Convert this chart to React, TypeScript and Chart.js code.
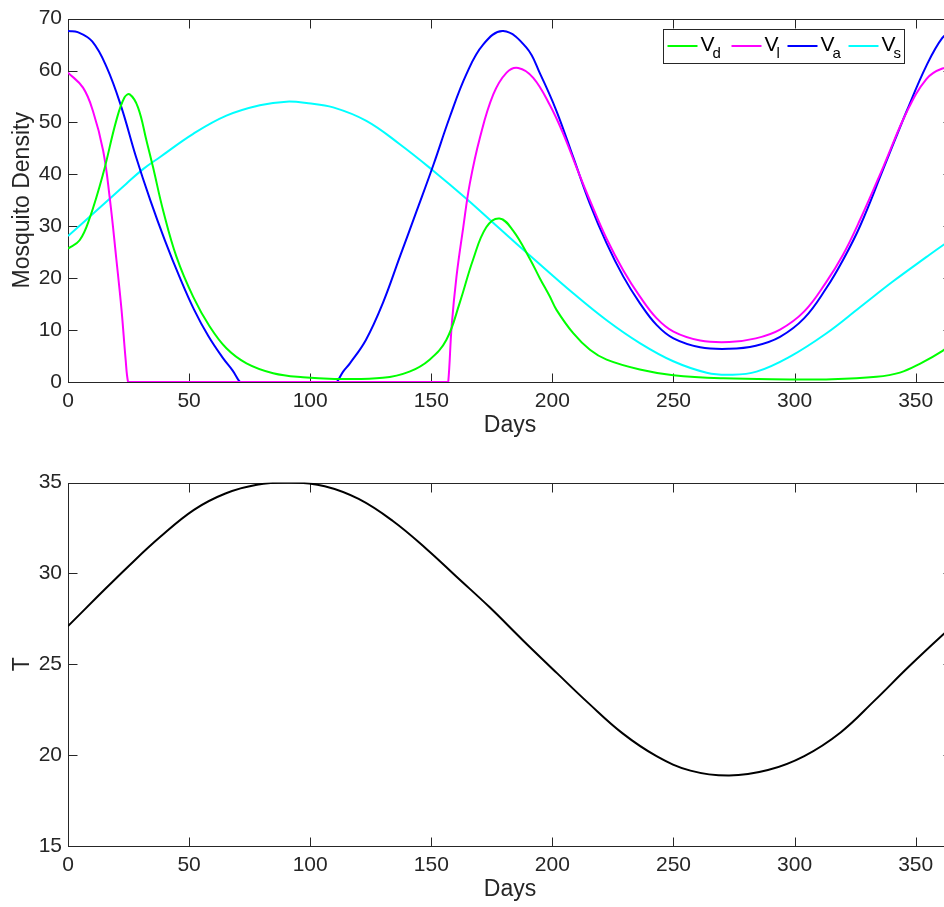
import React, { useEffect, useRef } from "react";
import { Chart, registerables } from "chart.js";

Chart.register(...registerables);

const FONT = '"Liberation Sans", Arial, Helvetica, sans-serif';
const AXIS = "#262626";

// ---------- data ----------
const xTickValues = [0, 50, 100, 150, 200, 250, 300, 350];
const densityTickValues = [0, 10, 20, 30, 40, 50, 60, 70];
const tempTickValues = [15, 20, 25, 30, 35];

const vdDays = [0, 4.8, 8.9, 14.5, 19.9, 23.3, 25.5, 28.9, 32.4, 35.1, 39.3, 44.8, 51.7, 58.5, 65.4, 73.7, 84.7, 97, 110, 130, 141, 149.3, 156.2, 161.7, 167.2, 172.7, 178.2, 183.7, 190.6, 194.8, 198.9, 201.7, 208.6, 215.5, 222.4, 236.1, 249.9, 270.6, 298, 313, 333.8, 343.5, 351.7, 361.1, 365];
const vdValues = [25.7, 27.3, 31.5, 40.1, 50.3, 54.8, 55.4, 52.9, 46.5, 41.4, 33.0, 24.1, 16.4, 10.7, 6.5, 3.6, 1.7, 0.9, 0.6, 0.8, 2.0, 4.3, 8.1, 15.2, 23.5, 29.8, 31.5, 29.2, 23.8, 20.0, 16.5, 13.9, 9.4, 6.2, 4.3, 2.4, 1.3, 0.7, 0.5, 0.5, 1.0, 1.8, 3.5, 6.0, 7.5];

const vlDays = [0, 6.2, 10.3, 14.5, 17.2, 20, 22.1, 23.8, 24.8, 25.6, 156.4, 157, 158.4, 160.4, 163.2, 165.9, 170.1, 175.6, 181.1, 185.9, 192.1, 199, 204.5, 210, 215.5, 222.4, 229.3, 236.1, 243, 250, 261, 273, 284, 294, 304, 313, 320, 327, 336.6, 346.3, 354.5, 361, 365];
const vlValues = [59.6, 56.7, 52.2, 44.6, 35.6, 23.5, 13.9, 4.3, 0, 0, 0, 0, 10.7, 20.3, 29.8, 38.2, 47.1, 55.4, 59.6, 60.5, 58.6, 53.3, 47.8, 41.3, 35.0, 27.6, 21.5, 16.5, 12.3, 9.7, 8.0, 7.7, 8.4, 10.1, 13.6, 19.2, 24.5, 31.2, 41.4, 52.0, 58.4, 60.4, 60.2];

const vaDays = [0, 4, 10, 16, 22, 28, 34, 40, 46, 52, 58, 64, 68, 71, 71.8, 110.2, 111, 113.6, 116.4, 123, 130, 137, 144, 151, 157.6, 164.5, 171.4, 179.7, 189.3, 195, 201.7, 208.6, 215.5, 222.4, 229.3, 236.1, 243, 250, 261, 273, 284, 294, 304, 313, 320, 327, 336.6, 346.3, 354.5, 361, 365];
const vaValues = [67.6, 67.4, 65.6, 60.6, 53.0, 43.5, 35.0, 27.3, 20.3, 14.0, 8.8, 4.6, 2.2, 0, 0, 0, 0, 2.0, 3.6, 8.1, 15.2, 24.1, 33.0, 42.0, 51.0, 59.3, 65.0, 67.6, 64.4, 59.3, 52.2, 43.3, 34.3, 26.7, 20.3, 15.2, 11.0, 8.4, 6.7, 6.4, 7.0, 8.7, 12.3, 18.0, 23.5, 30.0, 41.0, 52.2, 61.0, 66.3, 67.6];

const vsDays = [0, 10.3, 17.2, 24.1, 31, 37.9, 51.7, 65.4, 79.2, 90.2, 99.2, 109.5, 123.2, 137, 150.8, 164.5, 178.3, 192.1, 208.6, 222.4, 236.1, 249.9, 263.7, 273.3, 284.3, 298.1, 313.2, 327, 340.7, 354.5, 361.1, 365];
const vsValues = [28.1, 32.4, 35.3, 38.2, 41.0, 43.3, 47.8, 51.3, 53.3, 54.0, 53.7, 52.9, 50.3, 45.8, 40.7, 35.3, 29.5, 23.8, 17.1, 11.9, 7.5, 4.0, 1.8, 1.4, 2.0, 4.9, 9.4, 14.4, 19.4, 24.1, 26.3, 27.5];

const tDays = [0, 12, 25, 38, 52, 65, 78, 92, 106, 120, 134, 148, 161, 174, 188, 202, 215, 229, 243, 257, 273, 289, 304, 319, 333, 347, 361, 365];
const tValues = [27.1, 28.7, 30.4, 32.0, 33.5, 34.4, 34.88, 35.02, 34.8, 34.1, 32.9, 31.35, 29.75, 28.15, 26.3, 24.5, 22.85, 21.2, 19.95, 19.15, 18.88, 19.18, 19.95, 21.25, 23.0, 24.85, 26.6, 27.05];

const legendNames = ["d", "l", "a", "s"];
const legendColors = ["#00ff00", "#ff00ff", "#0000ff", "#00ffff"];
const legendOffsets = [4, 68, 124, 185];

// ---------- helpers ----------
const toPts = (xs: number[], ys: number[]) => xs.map((x, i) => ({ x, y: ys[i] }));

const line = (label: string, xs: number[], ys: number[], color: string) => ({
  label,
  data: toPts(xs, ys),
  borderColor: color,
  backgroundColor: color,
  borderWidth: 2,
  pointRadius: 0,
  fill: false,
  tension: 0.4,
});

const boxPlugin = {
  id: "matlabBox",
  beforeDatasetsDraw(chart: any) {
    const { ctx, chartArea: a, scales } = chart;
    ctx.save();
    ctx.strokeStyle = AXIS;
    ctx.lineWidth = 1;
    const L = Math.round(a.left) + 0.5;
    const R = Math.round(a.right) + 0.5;
    const T = Math.round(a.top) + 0.5;
    const B = Math.round(a.bottom) + 0.5;
    ctx.strokeRect(L, T, R - L, B - T);
    const tl = 9;
    ctx.beginPath();
    scales.x.ticks.forEach((t: any) => {
      const px = Math.round(scales.x.getPixelForValue(t.value)) + 0.5;
      ctx.moveTo(px, B);
      ctx.lineTo(px, B - tl);
      ctx.moveTo(px, T);
      ctx.lineTo(px, T + tl);
    });
    scales.y.ticks.forEach((t: any) => {
      const py = Math.round(scales.y.getPixelForValue(t.value)) + 0.5;
      ctx.moveTo(L, py);
      ctx.lineTo(L + tl, py);
      ctx.moveTo(R, py);
      ctx.lineTo(R - tl, py);
    });
    ctx.stroke();
    ctx.restore();
  },
  afterDraw(chart: any, _args: any, opts: any) {
    const { ctx, chartArea: a } = chart;
    ctx.save();
    ctx.fillStyle = AXIS;
    ctx.font = `23px ${FONT}`;
    ctx.textAlign = "center";
    ctx.textBaseline = "middle";
    ctx.fillText(opts.xTitle, 510, a.bottom + 44);
    ctx.translate(28.5, (a.top + a.bottom) / 2);
    ctx.rotate(-Math.PI / 2);
    ctx.textBaseline = "alphabetic";
    ctx.fillText(opts.yTitle, 0, 0);
    ctx.restore();

    if (opts.legend) {
      const bx = 663.5, by = 29.5, bw = 241, bh = 34;
      ctx.save();
      ctx.fillStyle = "#ffffff";
      ctx.fillRect(bx, by, bw, bh);
      ctx.strokeStyle = AXIS;
      ctx.lineWidth = 1;
      ctx.strokeRect(bx, by, bw, bh);
      const ly = 46;
      legendNames.forEach((nm, i) => {
        const x0 = bx + legendOffsets[i];
        ctx.strokeStyle = legendColors[i];
        ctx.lineWidth = 2;
        ctx.beginPath();
        ctx.moveTo(x0, ly);
        ctx.lineTo(x0 + 30, ly);
        ctx.stroke();
        ctx.fillStyle = "#000000";
        ctx.textAlign = "left";
        ctx.textBaseline = "alphabetic";
        ctx.font = `21px ${FONT}`;
        ctx.fillText("V", x0 + 33, 50.5);
        const vw = ctx.measureText("V").width;
        ctx.font = `15px ${FONT}`;
        ctx.fillText(nm, x0 + 33 + vw - 2, 58);
      });
      ctx.restore();
    }
  },
};

const makeScales = (ymin: number, ymax: number, yTicks: number[], xHeight: number) => ({
  x: {
    type: "linear" as const,
    min: 0,
    max: 365,
    afterBuildTicks: (s: any) => {
      s.ticks = xTickValues.map((v) => ({ value: v }));
    },
    grid: { display: false, drawTicks: false, tickLength: 0 },
    border: { display: false },
    ticks: { color: AXIS, font: { family: FONT, size: 21 }, padding: 7, maxRotation: 0, autoSkip: false },
    afterFit: (s: any) => {
      s.height = xHeight;
    },
  },
  y: {
    type: "linear" as const,
    min: ymin,
    max: ymax,
    afterBuildTicks: (s: any) => {
      s.ticks = yTicks.map((v) => ({ value: v }));
    },
    grid: { display: false, drawTicks: false, tickLength: 0 },
    border: { display: false },
    ticks: { color: AXIS, font: { family: FONT, size: 21 }, padding: 6, autoSkip: false },
    afterFit: (s: any) => {
      s.width = 68;
    },
  },
});

export default function App() {
  const topRef = useRef<HTMLCanvasElement>(null);
  const botRef = useRef<HTMLCanvasElement>(null);

  useEffect(() => {
    const common = {
      animation: false as const,
      responsive: false,
      devicePixelRatio: 1,
      events: [] as any[],
    };
    const top = new Chart(topRef.current!, {
      type: "line",
      data: {
        datasets: [
          line("Vd", vdDays, vdValues, "#00ff00"),
          line("Vl", vlDays, vlValues, "#ff00ff"),
          line("Va", vaDays, vaValues, "#0000ff"),
          line("Vs", vsDays, vsValues, "#00ffff"),
        ],
      },
      options: {
        ...common,
        layout: { autoPadding: false, padding: { left: 0, top: 17, right: 38, bottom: 0 } },
        plugins: {
          legend: { display: false },
          tooltip: { enabled: false },
          matlabBox: { xTitle: "Days", yTitle: "Mosquito Density", legend: true },
        } as any,
        scales: makeScales(0, 70, densityTickValues, 68) as any,
      },
      plugins: [boxPlugin],
    });
    const bot = new Chart(botRef.current!, {
      type: "line",
      data: {
        datasets: [line("T", tDays, tValues, "#000000")],
      },
      options: {
        ...common,
        layout: { autoPadding: false, padding: { left: 0, top: 17, right: 38, bottom: 0 } },
        plugins: {
          legend: { display: false },
          tooltip: { enabled: false },
          matlabBox: { xTitle: "Days", yTitle: "T", legend: false },
        } as any,
        scales: makeScales(15, 35, tempTickValues, 61) as any,
      },
      plugins: [boxPlugin],
    });
    return () => {
      top.destroy();
      bot.destroy();
    };
  }, []);

  return (
    <div
      style={{
        position: "fixed",
        left: 0,
        top: 0,
        width: 944,
        height: 907,
        overflow: "hidden",
        background: "#ffffff",
      }}
    >
      <canvas
        ref={topRef}
        width={990}
        height={450}
        style={{ position: "absolute", left: 0, top: 0, width: 990, height: 450 }}
      />
      <canvas
        ref={botRef}
        width={990}
        height={443}
        style={{ position: "absolute", left: 0, top: 464, width: 990, height: 443 }}
      />
    </div>
  );
}
